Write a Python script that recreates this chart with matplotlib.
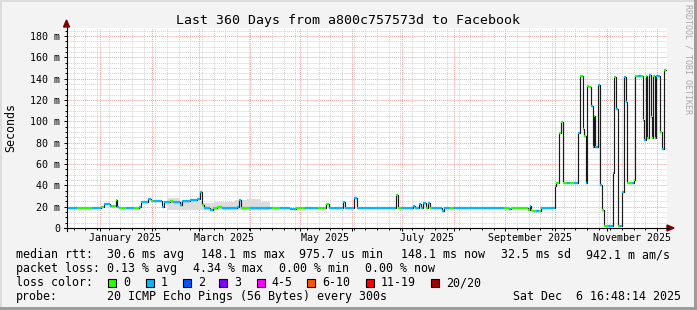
import datetime as dt
import numpy as np
import matplotlib.pyplot as plt
from matplotlib.patches import Rectangle, Polygon
from matplotlib.lines import Line2D

W, H = 697, 310
start = dt.datetime(2024, 12, 11, 16, 48, 14)
span_days = 360.0

# median rtt as steps: start day (from graph start), value in ms, lost pings
seg_day = [0, 6, 15, 20.7, 22.5, 26, 27.3, 29.4, 30.3, 31.5, 35.7, 40.5, 43.5, 44.7, 49,
           50.7, 52, 57.3, 58.5, 62, 64, 68, 69.3, 74, 78.3, 79.8, 81.3, 82.5, 86, 88,
           90.3, 93.3, 102.3, 103.5, 104.7, 107, 110, 117, 123.3, 128, 134, 137.7, 143,
           151, 155.7, 157.5, 165.9, 167, 172.5, 174.3, 197.7, 198.9, 200.7, 207.9, 209,
           211.5, 212.7, 213.9, 215.7, 216.6, 218, 219.3, 225.3, 226.5, 230, 232, 262.5,
           265.5, 266.7, 277, 278, 278.4, 279.3, 281.7, 283.5, 284.7, 292.8, 293.7, 295.5,
           296.7, 297.6, 300.3, 302, 304.5, 306.9, 307.8, 309.6, 310.5, 311.4, 312.3,
           313.5, 314.7, 315.6, 316.5, 317.1, 318.6, 320.1, 321, 322.2, 324.9, 327.9,
           328.5, 329.7, 330.6, 331.5, 333.3, 334.2, 335.7, 336.3, 339.3, 340.2, 341.1,
           342.9, 344.7, 345.7, 346.2, 347.4, 348, 349.5, 350.4, 351, 351.7, 352.8, 353.7,
           356, 357.3, 358.5]
seg_ms = [18.5, 18.5, 18.5, 19.5, 22.5, 20.5, 20.5, 26.5, 20, 18.5, 18.5, 18.5, 19.5, 24.5, 27,
          25, 25.5, 19.5, 24.5, 25, 24.5, 21.5, 25.5, 26, 27.5, 33.5, 22, 18.5, 17, 18.5,
          19.5, 18.5, 19.5, 26.5, 19, 18.5, 19, 18.5, 18.5, 18.5, 17.5, 18.5, 18.5,
          18.5, 22.5, 18.5, 24.5, 18.5, 28.5, 18.5, 31, 18.5, 18.5, 20.5, 18.5,
          22.5, 18.5, 23, 18.5, 23, 18.5, 18.5, 15.5, 18.5, 18.5, 18.5, 18.5,
          17.5, 18.5, 16.5, 21, 17, 15.5, 16, 16, 18.5, 39, 42, 89,
          99, 42.5, 42.5, 42.5, 42.5, 89, 142.5, 93, 86, 42.5, 133,
          132, 114, 76, 105, 76, 134, 40, 16.5, 1.5, 1.5, 52,
          142, 112, 1.5, 1.5, 34, 142, 118, 42.5, 42.5, 45, 142.5,
          142.5, 142.5, 101, 82.5, 142.5, 84, 143.5, 104, 84, 142.5, 84, 142.5,
          90.3, 73.8, 148]
seg_loss = [1, 0, 1, 0, 1, 1, 0, 0, 1, 0, 1, 0, 1, 1, 1,
            0, 1, 1, 1, 0, 1, 1, 1, 1, 1, 1, 0, 1, 1, 0,
            0, 1, 1, 1, 0, 0, 1, 1, 0, 1, 1, 0, 1,
            0, 0, 1, 1, 1, 1, 1, 0, 0, 1, 1, 1,
            1, 1, 1, 0, 1, 0, 1, 1, 1, 0, 1, 0,
            1, 0, 0, 1, 0, 0, 1, 0, 1, 1, 0, 0,
            0, 0, 1, 0, 1, 1, 0, 1, 0, 1, 0,
            0, 1, 1, 0, 1, 1, 1, 0, 0, 1, 1,
            0, 1, 0, 1, 1, 1, 1, 0, 1, 0, 0,
            1, 0, 1, 1, 0, 0, 1, 0, 0, 0, 1, 1,
            0, 1, 0]

# smoke (spread of the individual pings)
smoke_day = [60, 68, 82, 89, 101, 108, 116, 122]
smoke_lo = [17, 17, 17, 17, 17, 17, 17, 17]
smoke_hi = [28, 25, 23.5, 24.5, 26.5, 27, 24, 24]

loss_labels = ['0', '1', '2', '3', '4-5', '6-10', '11-19', '20/20']
loss_colors = ['#26ff00', '#00b8ff', '#0059ff', '#7e00ff', '#ff00ff', '#ff5500', '#ff0000', '#a10000']


def fx(x):
    return x / W


def fy(y):
    return 1 - y / H


def day_of(d):
    return (d - start).total_seconds() / 86400.0


mono = 'DejaVu Sans Mono'
fig = plt.figure(figsize=(W / 100, H / 100), dpi=100, facecolor='#f3f3f3')

# frame shading
fig.add_artist(Rectangle((0, fy(2)), 1, 2 / H, transform=fig.transFigure, color='#dcdcdc', lw=0))
fig.add_artist(Rectangle((0, 0), 2 / W, 1, transform=fig.transFigure, color='#dcdcdc', lw=0))
fig.add_artist(Rectangle((0, 0), 1, 3 / H, transform=fig.transFigure, color='#9c9c9c', lw=0))
fig.add_artist(Rectangle((fx(694), 0), 3 / W, 1, transform=fig.transFigure, color='#9c9c9c', lw=0))

ax = fig.add_axes([fx(66.5), fy(228), 600 / W, 200 / H])
ax.set_xlim(0, span_days)
ax.set_ylim(0, 187.5)
for s in ax.spines.values():
    s.set_visible(False)

# grid
months = [dt.datetime(2024, 12, 1) + dt.timedelta(days=31 * i) for i in range(14)]
months = [dt.datetime(m.year, m.month, 1) for m in months]
month_x = [day_of(m) for m in months if 0 < day_of(m) < span_days]
weeks = []
w = dt.datetime(2024, 12, 16)
while day_of(w) < span_days:
    weeks.append(day_of(w))
    w += dt.timedelta(days=7)
ax.set_xticks(month_x)
ax.set_xticks(weeks, minor=True)
ax.set_yticks(np.arange(0, 181, 20))
ax.set_yticks(np.arange(0, 187, 5), minor=True)
ax.set_yticklabels(['0'] + ['%d m' % v for v in range(20, 181, 20)])
ax.set_xticklabels([])
ax.grid(which='minor', color='#d2d2d2', lw=0.7, ls=(0, (1, 1)))
ax.grid(which='major', color='#f4a0a0', lw=0.7, ls=(0, (1, 1)))
ax.set_axisbelow(True)
ax.tick_params(which='major', axis='y', length=2.2, width=0.7, pad=2.5, labelsize=7.2,
               labelfontfamily=mono)
ax.tick_params(which='minor', axis='y', length=1.2, width=0.7)
ax.tick_params(which='major', axis='x', length=2.2, width=0.7, direction='out')
ax.tick_params(which='minor', axis='x', length=1.2, width=0.7)

# month labels, centred half a month after the month start
for m in months:
    if m.month % 2 == 1 and m.year == 2025:
        ax.text(day_of(m) + 15, -12.3, m.strftime('%B %Y'), transform=ax.transData,
                ha='center', va='baseline', family=mono, fontsize=7.2)

# smoke
ax.fill_between(smoke_day, smoke_lo, smoke_hi, step='post', color='#dcdcdc', lw=0)

# median line
ends = seg_day[1:] + [359.5]
ax.step(seg_day + [359.5], seg_ms + [seg_ms[-1]], where='post', color='#1a1a1a', lw=0.85)
ax.hlines(seg_ms, seg_day, ends, colors=[loss_colors[l] for l in seg_loss], lw=1.6)

# axes with arrows
fig.add_artist(Line2D([fx(66.5), fx(66.5)], [fy(231), fy(24)], color='black', lw=0.8,
                      transform=fig.transFigure))
fig.add_artist(Line2D([fx(63.5), fx(669)], [fy(228), fy(228)], color='black', lw=0.8,
                      transform=fig.transFigure))
fig.add_artist(Polygon([(fx(63.5), fy(27)), (fx(69.5), fy(27)), (fx(66.5), fy(20))], closed=True,
                       color='#7f0000', transform=fig.transFigure))
fig.add_artist(Polygon([(fx(667), fy(225)), (fx(667), fy(231)), (fx(674), fy(228))], closed=True,
                       color='#7f0000', transform=fig.transFigure))

# texts
fig.text(0.5, fy(24), 'Last 360 Days from a800c757573d to Facebook', ha='center', va='baseline',
         family=mono, fontsize=9.5)
fig.text(fx(10.5), fy(128), 'Seconds', rotation=90, ha='center', va='center', family=mono,
         fontsize=8.4)
fig.text(fx(688), fy(4), 'RRDTOOL / TOBI OETIKER', rotation=270, ha='center', va='top',
         family=mono, fontsize=6.0, color='#a8a8a8')

lg = dict(family=mono, fontsize=8.4, va='baseline')
rows = [
    (258, [(16, 'median rtt:'), (107.3, '30.6 ms avg'), (201, '148.1 ms max'),
           (299.3, '975.7 us min'), (400.7, '148.1 ms now'), (500.7, '32.5 ms sd'),
           (586, '942.1 m am/s')]),
    (272, [(16, 'packet loss:'), (107.3, '0.13 % avg'), (193.3, '4.34 % max'),
           (279.3, '0.00 % min'), (365, '0.00 % now')]),
    (300, [(16, 'probe:'), (107.3, '20 ICMP Echo Pings (56 Bytes) every 300s'),
           (513.3, 'Sat Dec  6 16:48:14 2025')]),
]
for y, items in rows:
    for x, s in items:
        fig.text(fx(x), fy(y), s, **lg)

fig.text(fx(16), fy(286), 'loss color:', **lg)
box_x = [108, 145.7, 182.7, 219.3, 256.7, 307.3, 365.7, 431]
for bx, lab, col in zip(box_x, loss_labels, loss_colors):
    fig.add_artist(Rectangle((fx(bx), fy(286.5)), 8 / W, 8 / H, transform=fig.transFigure,
                             facecolor=col, edgecolor='black', lw=0.8))
    fig.text(fx(bx + 15), fy(286), lab, **lg)

fig.savefig('out.png', dpi=100, facecolor=fig.get_facecolor())
